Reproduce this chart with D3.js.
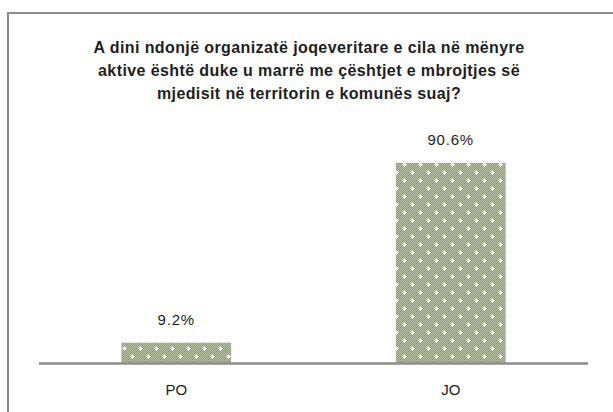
<!DOCTYPE html>
<html>
<head>
<meta charset="utf-8">
<script src="https://cdn.jsdelivr.net/npm/d3@7"></script>
<style>
  body { margin: 0; background: #fff; }
  text { font-family: "Liberation Sans", Arial, sans-serif; fill: #1e1e1e; }
</style>
</head>
<body>
<script>
const categories = ["PO", "JO"];
const values = [9.2, 90.6];
const titleLines = [
  "A dini ndonjë organizatë joqeveritare e cila në mënyre",
  "aktive është duke u marrë me çështjet e mbrojtjes së",
  "mjedisit në territorin e komunës suaj?"
];

const W = 613, H = 412;
const plot = { left: 39, right: 588, base: 363, top: 142 };

const svg = d3.select("body").append("svg")
  .attr("width", W)
  .attr("height", H);

// dotted fill like the Excel pattern
const defs = svg.append("defs");
const pat = defs.append("pattern")
  .attr("id", "dots")
  .attr("patternUnits", "userSpaceOnUse")
  .attr("width", 16)
  .attr("height", 16);
pat.append("rect").attr("width", 16).attr("height", 16).attr("fill", "#8e9c74");
for (let i = 0; i < 16; i += 2) {
  for (let j = 0; j < 16; j += 1) {
    pat.append("rect")
      .attr("x", i + (j % 2)).attr("y", j)
      .attr("width", 1).attr("height", 1)
      .attr("fill", "#b7c1a3");
  }
}
[[4, 4], [12, 12]].forEach(([cx, cy]) => {
  pat.append("rect").attr("x", cx - 1).attr("y", cy - 1).attr("width", 3).attr("height", 3).attr("fill", "#fff");
  pat.append("rect").attr("x", cx - 2).attr("y", cy).attr("width", 5).attr("height", 1).attr("fill", "#f2f4ee");
  pat.append("rect").attr("x", cx).attr("y", cy - 2).attr("width", 1).attr("height", 5).attr("fill", "#f2f4ee");
});

// chart frame (runs off the right and bottom edges)
svg.append("rect")
  .attr("x", 8).attr("y", 13)
  .attr("width", 700).attr("height", 500)
  .attr("fill", "none")
  .attr("stroke", "#8c8c8c")
  .attr("stroke-width", 2);

const title = svg.append("text")
  .attr("text-anchor", "middle")
  .style("font-size", "16px")
  .style("font-weight", "bold")
  .style("letter-spacing", "0.4px");
titleLines.forEach((t, i) => {
  title.append("tspan")
    .attr("x", 309)
    .attr("y", 53 + i * 23)
    .text(t);
});

const x = d3.scaleBand()
  .domain(categories)
  .range([plot.left, plot.right])
  .padding(0);

const y = d3.scaleLinear()
  .domain([0, 100])
  .range([plot.base, plot.top]);

const barW = x.bandwidth() * 0.4;

svg.selectAll(".bar")
  .data(categories)
  .join("rect")
    .attr("class", "bar")
    .attr("x", d => x(d) + (x.bandwidth() - barW) / 2)
    .attr("y", (d, i) => y(values[i]))
    .attr("width", barW)
    .attr("height", (d, i) => y(0) - y(values[i]))
    .attr("fill", "url(#dots)");

svg.selectAll(".val")
  .data(categories)
  .join("text")
    .attr("class", "val")
    .attr("x", d => x(d) + x.bandwidth() / 2)
    .attr("y", (d, i) => y(values[i]) - 18)
    .attr("text-anchor", "middle")
    .style("font-size", "15px")
    .style("letter-spacing", "0.8px")
    .text((d, i) => values[i].toFixed(1) + "%");

// baseline axis
svg.append("line")
  .attr("x1", plot.left).attr("x2", plot.right)
  .attr("y1", y(0) + 0.5).attr("y2", y(0) + 0.5)
  .attr("stroke", "#8c8c8c")
  .attr("stroke-width", 2.5);

svg.selectAll(".cat")
  .data(categories)
  .join("text")
    .attr("class", "cat")
    .attr("x", d => x(d) + x.bandwidth() / 2)
    .attr("y", 395)
    .attr("text-anchor", "middle")
    .style("font-size", "15px")
    .text(d => d);
</script>
</body>
</html>
